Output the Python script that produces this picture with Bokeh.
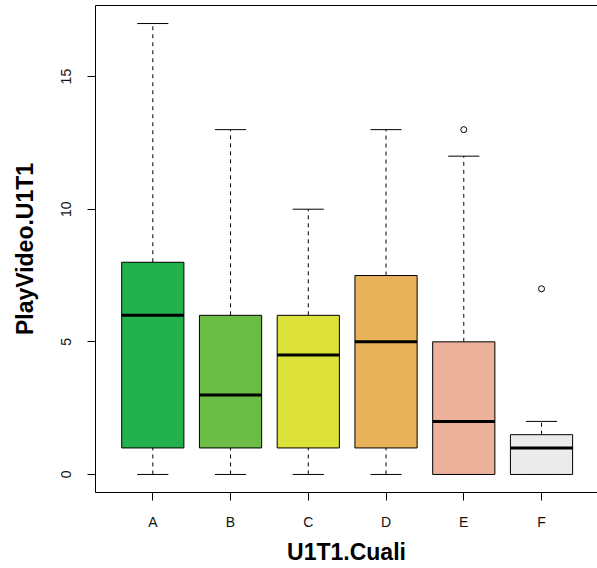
import numpy as np
from bokeh.plotting import figure
from bokeh.models import Range1d, FixedTicker, LinearAxis
from bokeh.embed import file_html
from bokeh.resources import INLINE

# ---- data ----
categories = ["A", "B", "C", "D", "E", "F"]
q1 = [1, 1, 1, 1, 0, 0]
medians = [6, 3, 4.5, 5, 2, 1]
q3 = [8, 6, 6, 7.5, 5, 1.5]
whisk_lo = [0, 0, 0, 0, 0, 0]
whisk_hi = [17, 13, 10, 13, 12, 2]
outlier_cat = ["E", "F"]
outlier_val = [13, 7]
colors = ["#22B14C", "#6BBD45", "#DCE23A", "#E8B25A", "#ECB19A", "#EBEBEB"]
y_ticks = [0, 5, 10, 15]
x_title = "U1T1.Cuali"
y_title = "PlayVideo.U1T1"

FONT = "Liberation Sans"
BOXW = 0.8
STAPLE = 0.4

xpos = np.arange(1, len(categories) + 1)
pos_of = {c: i + 1 for i, c in enumerate(categories)}
out_x = [pos_of[c] for c in outlier_cat]

p = figure(width=597, height=568,
           x_range=Range1d(0.263, 6.72), y_range=Range1d(-0.68, 17.68),
           output_backend="svg", toolbar_location=None, title=None,
           min_border_left=95, min_border_bottom=76, min_border_top=5,
           min_border_right=0)
p.outline_line_color = None
p.background_fill_color = "white"
p.border_fill_color = "white"
p.xgrid.visible = False
p.ygrid.visible = False

# whiskers (dashed)
p.segment(x0=xpos, y0=q3, x1=xpos, y1=whisk_hi, line_color="black",
          line_width=1, line_dash="4 4")
p.segment(x0=xpos, y0=whisk_lo, x1=xpos, y1=q1, line_color="black",
          line_width=1, line_dash="4 4")
# staples
p.segment(x0=xpos - STAPLE / 2, y0=whisk_hi, x1=xpos + STAPLE / 2, y1=whisk_hi,
          line_color="black", line_width=1)
p.segment(x0=xpos - STAPLE / 2, y0=whisk_lo, x1=xpos + STAPLE / 2, y1=whisk_lo,
          line_color="black", line_width=1)
# boxes
p.vbar(x=xpos, width=BOXW, bottom=q1, top=q3, fill_color=colors,
       line_color="black", line_width=1)
# medians
p.segment(x0=xpos - BOXW / 2, y0=medians, x1=xpos + BOXW / 2, y1=medians,
          line_color="black", line_width=3)
# outliers
p.scatter(x=out_x, y=outlier_val, size=6, marker="circle",
          fill_color=None, line_color="black", line_width=1)

# axes
xa = p.xaxis[0]
xa.ticker = FixedTicker(ticks=list(xpos))
xa.major_label_overrides = {int(i + 1): c for i, c in enumerate(categories)}
xa.axis_label = x_title
ya = p.yaxis[0]
ya.ticker = FixedTicker(ticks=y_ticks)
ya.axis_label = y_title
ya.major_label_orientation = "vertical"

for ax in (xa, ya):
    ax.axis_line_color = "black"
    ax.axis_line_width = 1
    ax.major_tick_line_color = "black"
    ax.major_tick_out = 8
    ax.major_tick_in = 0
    ax.minor_tick_line_color = None
    ax.major_label_text_font = FONT
    ax.major_label_text_font_size = "14px"
    ax.major_label_text_color = "#111111"
    ax.axis_label_text_font = FONT
    ax.axis_label_text_font_size = "23px"
    ax.axis_label_text_font_style = "bold"
    ax.axis_label_text_color = "black"
xa.major_label_standoff = 13
xa.axis_label_standoff = 6
ya.major_label_standoff = 16
ya.axis_label_standoff = 21

# top border line
top = LinearAxis(ticker=FixedTicker(ticks=[]), axis_line_color="black",
                 major_tick_line_color=None, minor_tick_line_color=None,
                 major_label_text_font_size="0px", major_label_standoff=0,
                 major_tick_out=0, major_tick_in=0)
p.add_layout(top, "above")

open("out.html", "w").write(file_html(p, INLINE))
